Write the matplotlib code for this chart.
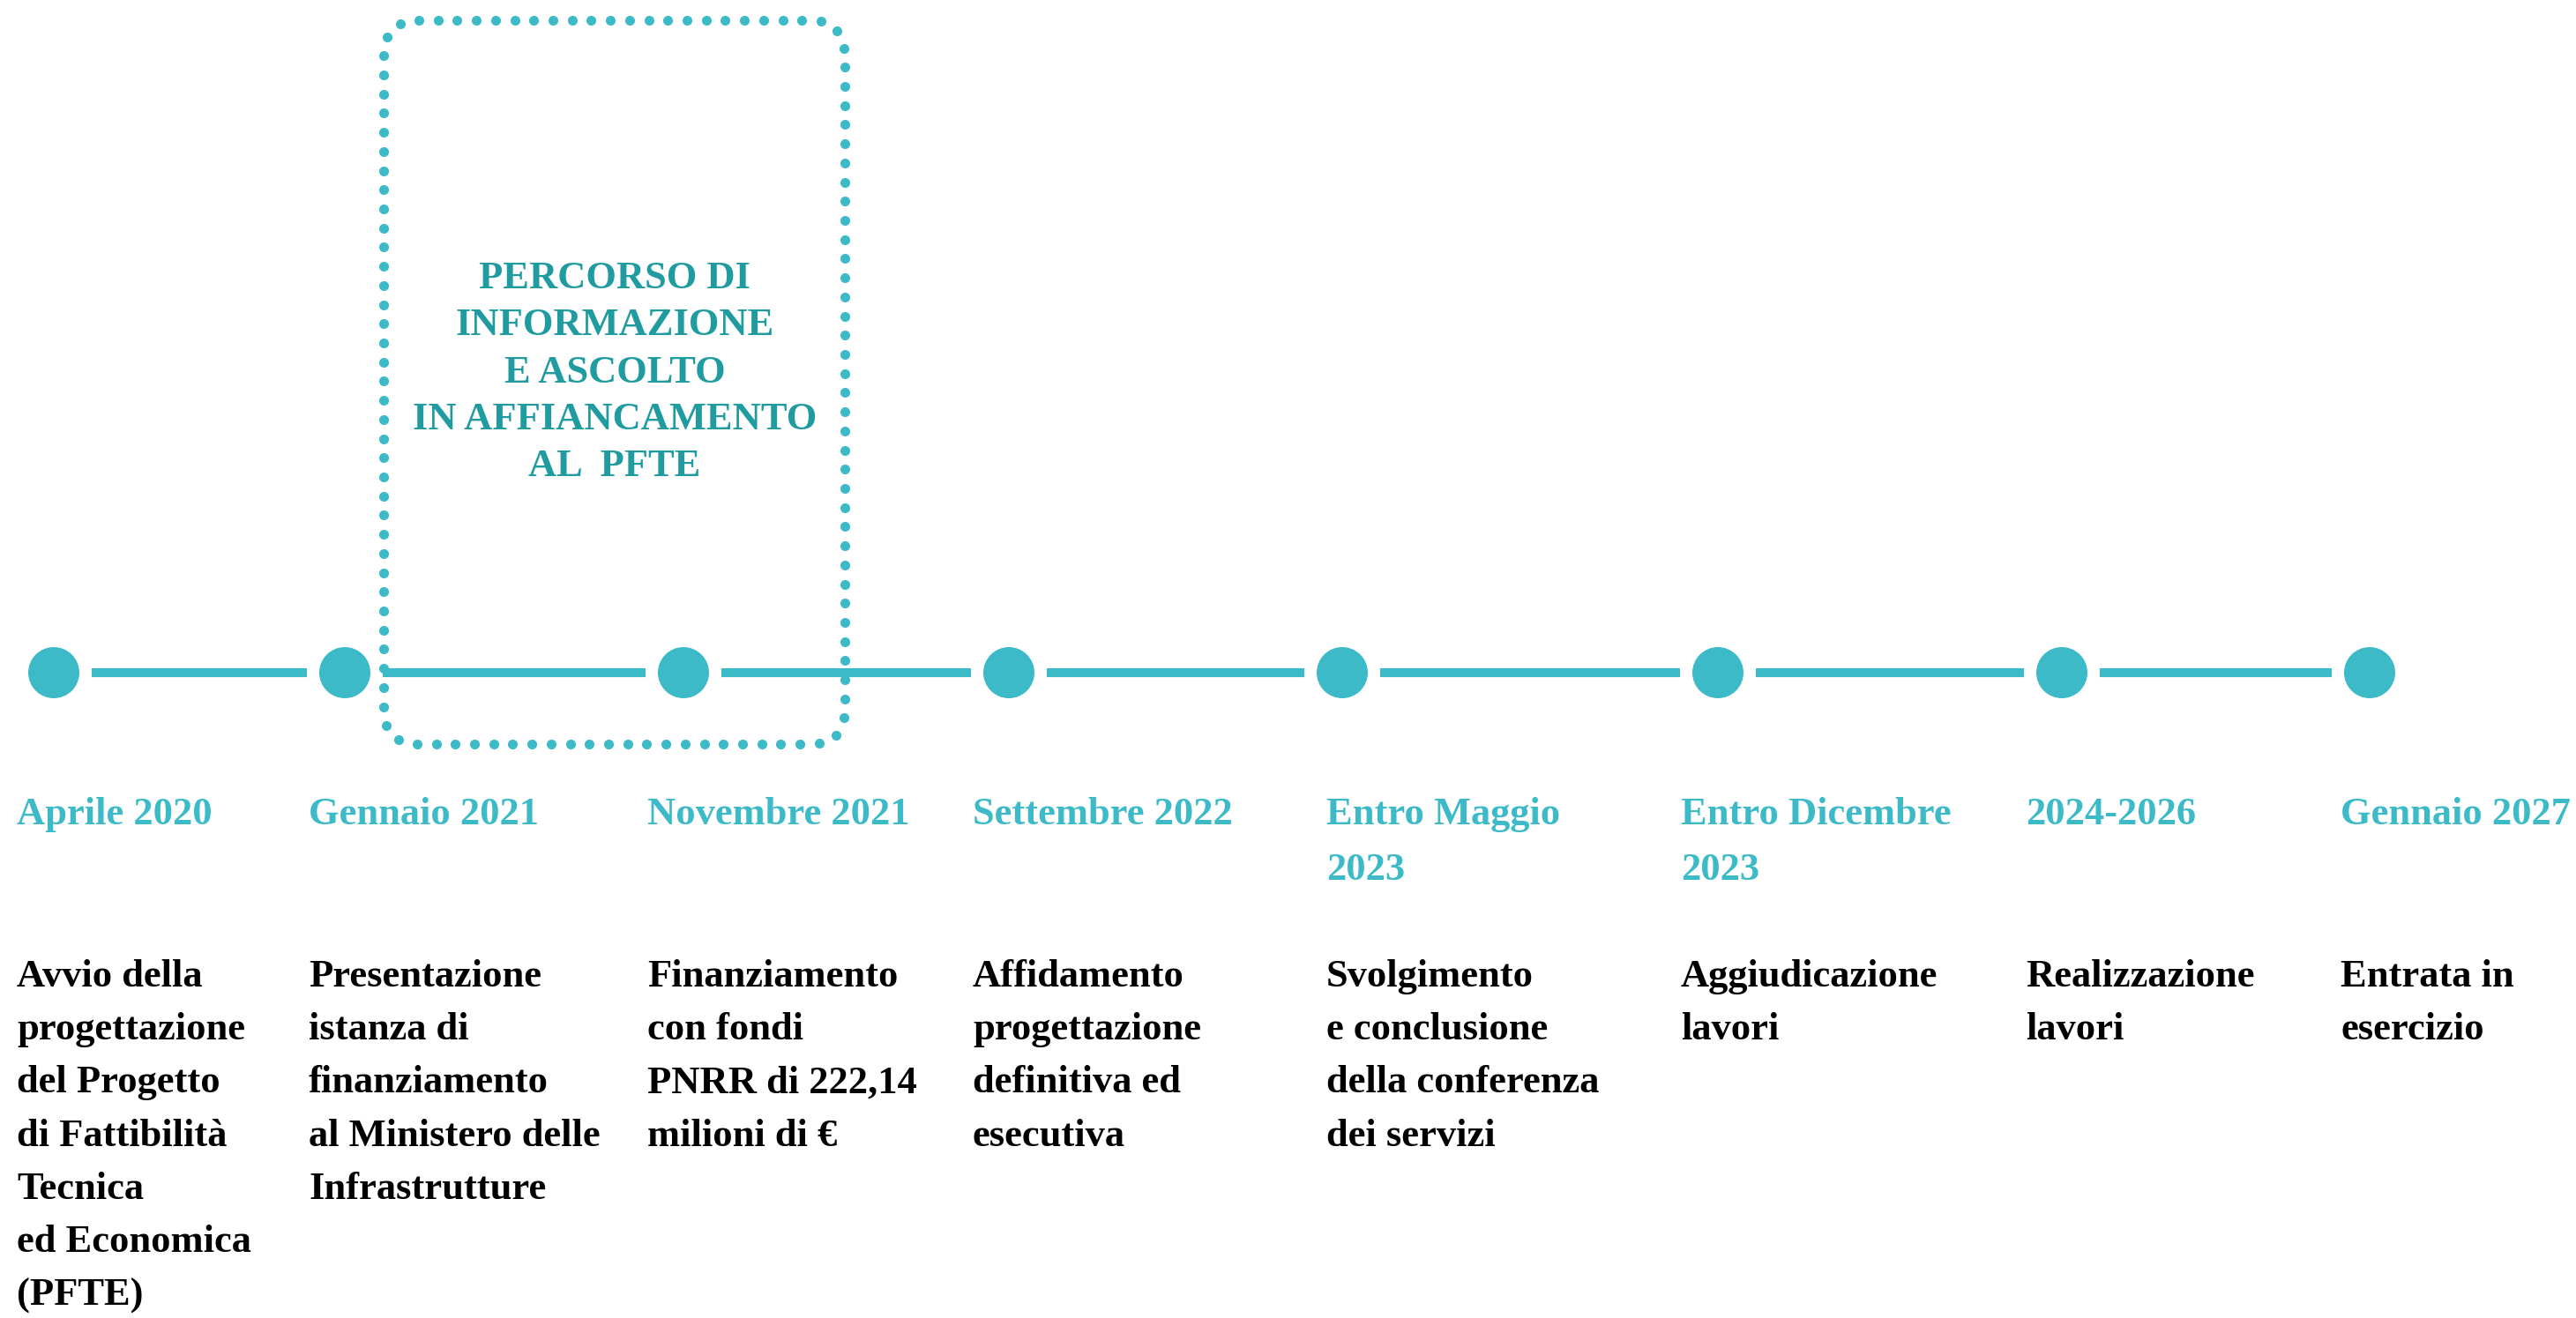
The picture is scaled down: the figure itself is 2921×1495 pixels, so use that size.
import matplotlib
matplotlib.use("Agg")
import numpy as np
import matplotlib.pyplot as plt
from matplotlib.patches import Circle, FancyBboxPatch

# ---------------- data ----------------
dates = [
    ["Aprile 2020"],
    ["Gennaio 2021"],
    ["Novembre 2021"],
    ["Settembre 2022"],
    ["Entro Maggio", "2023"],
    ["Entro Dicembre", "2023"],
    ["2024-2026"],
    ["Gennaio 2027"],
]
descriptions = [
    ["Avvio della", "progettazione", "del Progetto", "di Fattibilità", "Tecnica",
     "ed Economica", "(PFTE)"],
    ["Presentazione", "istanza di", "finanziamento", "al Ministero delle",
     "Infrastrutture"],
    ["Finanziamento", "con fondi", "PNRR di 222,14", "milioni di €"],
    ["Affidamento", "progettazione", "definitiva ed", "esecutiva"],
    ["Svolgimento", "e conclusione", "della conferenza", "dei servizi"],
    ["Aggiudicazione", "lavori"],
    ["Realizzazione", "lavori"],
    ["Entrata in", "esercizio"],
]
box_text = ["PERCORSO DI", "INFORMAZIONE", "E ASCOLTO", "IN AFFIANCAMENTO", "AL  PFTE"]

# ---------------- layout (pixels) ----------------
W, H = 2921, 1495
node_x = [61, 391, 775, 1144, 1522, 1948, 2338, 2687]
label_x = [19, 350, 734, 1103, 1504, 1906, 2297, 2654]
line_y = 763
node_r = 29
gap = 14
date_base = 935
date_step = 63
desc_base = 1119
desc_step = 60.2
box_left, box_right, box_top, box_bottom = 435, 958, 23, 844
box_text_x = 697
box_text_base = 327
box_text_step = 53.3
dot_spacing = 21.7
dot_diam_pt = 8.0

teal = "#3DBAC7"
dark_teal = "#209CA1"
font = "Liberation Serif"
fs = 32

fig = plt.figure(figsize=(W / 100, H / 100), dpi=100)
ax = fig.add_axes([0, 0, 1, 1])
ax.set_xlim(0, W)
ax.set_ylim(H, 0)
ax.set_aspect("equal")
ax.axis("off")

# connecting segments
for a, b in zip(node_x[:-1], node_x[1:]):
    ax.plot([a + node_r + gap, b - node_r - gap], [line_y, line_y],
            color=teal, lw=7.3, solid_capstyle="butt", zorder=2)

# nodes
for x in node_x:
    ax.add_patch(Circle((x, line_y), node_r, color=teal, zorder=3, lw=0))

# dotted rounded box: sample the rounded-box outline and place dots on it
rad = 40
box = FancyBboxPatch((box_left + rad, box_top + rad),
                     (box_right - box_left) - 2 * rad,
                     (box_bottom - box_top) - 2 * rad,
                     boxstyle=f"round,pad={rad},rounding_size={rad}")
poly = box.get_path().to_polygons()[0]
seg = np.hypot(np.diff(poly[:, 0]), np.diff(poly[:, 1]))
cum = np.concatenate([[0], np.cumsum(seg)])
n = int(round(cum[-1] / dot_spacing))
s = np.linspace(0, cum[-1], n, endpoint=False)
px = np.interp(s, cum, poly[:, 0])
py = np.interp(s, cum, poly[:, 1])
ax.scatter(px, py, s=dot_diam_pt ** 2, color=teal, linewidths=0, zorder=4)

# box text
for i, t in enumerate(box_text):
    ax.text(box_text_x, box_text_base + i * box_text_step, t, ha="center",
            va="baseline", color=dark_teal, fontsize=fs, family=font,
            fontweight="bold", zorder=5)

# date labels
for x, lines in zip(label_x, dates):
    for i, t in enumerate(lines):
        ax.text(x, date_base + i * date_step, t, ha="left", va="baseline",
                color=teal, fontsize=fs, family=font, fontweight="bold")

# descriptions
for x, lines in zip(label_x, descriptions):
    for i, t in enumerate(lines):
        ax.text(x, desc_base + i * desc_step, t, ha="left", va="baseline",
                color="black", fontsize=fs, family=font, fontweight="bold")

fig.savefig("out.png", dpi=100, facecolor="white")
